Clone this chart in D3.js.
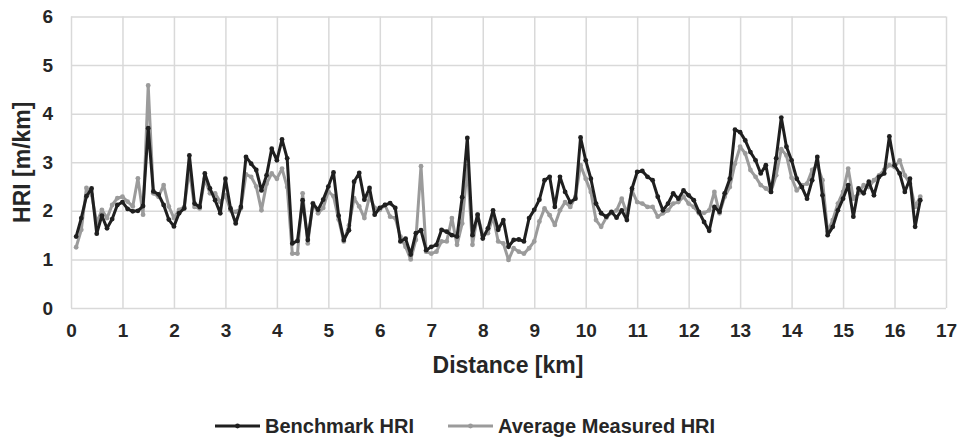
<!DOCTYPE html>
<html>
<head>
<meta charset="utf-8">
<script src="https://cdn.jsdelivr.net/npm/d3@7"></script>
<style>
  body { margin: 0; background: #fff; }
  svg text { font-family: "Liberation Sans", Arial, sans-serif; font-weight: bold; fill: #262626; }
</style>
</head>
<body>
<div id="chart"></div>
<script>
// distance along the route [km]
const distance = [
  0.1,0.2,0.3,0.4,0.5,0.6,0.7,0.8,0.9,1.0,1.1,1.2,1.3,1.4,1.5,1.6,1.7,1.8,1.9,2.0,
  2.1,2.2,2.3,2.4,2.5,2.6,2.7,2.8,2.9,3.0,3.1,3.2,3.3,3.4,3.5,3.6,3.7,3.8,3.9,4.0,
  4.1,4.2,4.3,4.4,4.5,4.6,4.7,4.8,4.9,5.0,5.1,5.2,5.3,5.4,5.5,5.6,5.7,5.8,5.9,6.0,
  6.1,6.2,6.3,6.4,6.5,6.6,6.7,6.8,6.9,7.0,7.1,7.2,7.3,7.4,7.5,7.6,7.7,7.8,7.9,8.0,
  8.1,8.2,8.3,8.4,8.5,8.6,8.7,8.8,8.9,9.0,9.1,9.2,9.3,9.4,9.5,9.6,9.7,9.8,9.9,10.0,
  10.1,10.2,10.3,10.4,10.5,10.6,10.7,10.8,10.9,11.0,11.1,11.2,11.3,11.4,11.5,11.6,11.7,11.8,11.9,12.0,
  12.1,12.2,12.3,12.4,12.5,12.6,12.7,12.8,12.9,13.0,13.1,13.2,13.3,13.4,13.5,13.6,13.7,13.8,13.9,14.0,
  14.1,14.2,14.3,14.4,14.5,14.6,14.7,14.8,14.9,15.0,15.1,15.2,15.3,15.4,15.5,15.6,15.7,15.8,15.9,16.0,
  16.1,16.2,16.3,16.4,16.5
];

const benchmarkHRI = [
  1.47,1.85,2.30,2.46,1.53,1.90,1.64,1.83,2.12,2.18,2.04,1.99,2.00,2.10,3.70,2.40,2.34,2.12,1.82,1.68,
  1.95,2.05,3.14,2.15,2.08,2.77,2.46,2.22,1.95,2.66,2.05,1.74,2.08,3.11,2.97,2.84,2.42,2.73,3.28,3.04,
  3.47,3.08,1.33,1.38,2.22,1.40,2.15,2.02,2.23,2.50,2.79,1.90,1.40,1.60,2.60,2.78,2.23,2.47,1.92,2.06,
  2.12,2.16,2.06,1.37,1.43,1.10,1.54,1.60,1.19,1.26,1.30,1.61,1.57,1.50,1.47,2.28,3.50,1.50,1.92,1.43,
  1.64,2.01,1.61,1.81,1.26,1.40,1.41,1.37,1.85,2.02,2.23,2.63,2.70,2.08,2.70,2.39,2.18,2.25,3.51,3.04,
  2.66,2.15,1.95,1.88,1.98,1.86,2.01,1.81,2.46,2.80,2.82,2.70,2.63,2.29,2.01,2.15,2.36,2.25,2.42,2.32,
  2.22,1.98,1.77,1.59,2.08,1.98,2.36,2.66,3.67,3.62,3.45,3.21,3.04,2.77,2.94,2.39,3.08,3.92,3.32,3.04,
  2.66,2.49,2.25,2.63,3.11,2.32,1.50,1.67,2.01,2.25,2.53,1.88,2.46,2.36,2.60,2.32,2.70,2.77,3.53,2.94,
  2.77,2.39,2.66,1.67,2.22
];

const averageMeasuredHRI = [
  1.25,1.61,2.47,2.33,1.75,2.02,1.85,2.12,2.26,2.29,2.19,2.09,2.67,1.92,4.58,2.36,2.29,2.53,2.09,1.85,
  2.02,2.08,2.84,2.08,2.05,2.66,2.36,2.36,2.18,2.32,2.01,1.98,2.05,2.75,2.70,2.50,2.01,2.56,2.77,2.66,
  2.87,2.49,1.12,1.12,2.36,1.33,2.16,1.95,2.06,2.40,2.30,1.82,1.37,1.70,2.26,2.09,1.85,2.30,2.06,2.02,
  2.12,1.88,1.85,1.47,1.26,1.00,1.40,2.92,1.16,1.12,1.16,1.37,1.37,1.85,1.30,1.74,2.92,1.30,1.92,1.50,
  1.54,1.88,1.37,1.33,0.99,1.23,1.16,1.12,1.23,1.37,1.78,2.05,1.91,1.71,2.01,2.18,2.08,2.29,2.94,2.66,
  2.39,1.81,1.67,1.86,1.96,2.01,2.25,1.95,2.42,2.18,2.15,2.08,2.08,1.88,1.95,2.01,2.15,2.18,2.29,2.15,
  2.08,1.95,1.96,2.01,2.39,1.95,2.29,2.49,2.97,3.32,3.18,2.84,2.70,2.53,2.46,2.39,2.73,3.27,3.14,2.68,
  2.42,2.53,2.56,2.84,2.94,2.63,1.57,1.81,2.15,2.39,2.87,2.25,2.36,2.53,2.49,2.63,2.73,2.84,2.94,2.90,
  3.04,2.73,2.56,2.08,2.29
];

const xTicks = d3.range(0, 18);
const yTicks = [0, 1, 2, 3, 4, 5, 6];

const series = [
  { name: "Benchmark HRI", values: benchmarkHRI, color: "#1f1f1f" },
  { name: "Average Measured HRI", values: averageMeasuredHRI, color: "#9b9b9b" }
];

const width = 960, height = 441;
const margin = { top: 16.5, right: 14, bottom: 133, left: 71 };
const innerW = width - margin.left - margin.right;
const innerH = height - margin.top - margin.bottom;

const svg = d3.select("#chart").append("svg")
  .attr("width", width).attr("height", height);

const g = svg.append("g").attr("transform", `translate(${margin.left},${margin.top})`);

const x = d3.scaleLinear().domain([0, 17]).range([0, innerW]);
const y = d3.scaleLinear().domain([0, 6]).range([innerH, 0]);

// gridlines
g.append("g")
  .call(d3.axisLeft(y).tickValues(yTicks).tickSize(-innerW).tickFormat(""))
  .call((s) => s.select(".domain").remove())
  .selectAll("line").attr("stroke", "#d9d9d9").attr("stroke-width", 1.5);

g.append("g")
  .attr("transform", `translate(0,${innerH})`)
  .call(d3.axisBottom(x).tickValues(xTicks).tickSize(-innerH).tickFormat(""))
  .call((s) => s.select(".domain").remove())
  .selectAll("line").attr("stroke", "#d9d9d9").attr("stroke-width", 1.5);

// tick labels
const yAxis = g.append("g")
  .call(d3.axisLeft(y).tickValues(yTicks).tickSize(0).tickPadding(18).tickFormat(d3.format("d")));
yAxis.select(".domain").remove();
yAxis.selectAll("text").attr("font-size", 19).style("font-family", null).attr("fill", null);

const xAxis = g.append("g")
  .attr("transform", `translate(0,${innerH})`)
  .call(d3.axisBottom(x).tickValues(xTicks).tickSize(0).tickPadding(16).tickFormat(d3.format("d")));
xAxis.select(".domain").remove();
xAxis.selectAll("text").attr("font-size", 19).style("font-family", null).attr("fill", null);

// series
const line = d3.line()
  .x((d, i) => x(distance[i]))
  .y((d) => y(d));

series.slice().reverse().forEach((s) => {
  const sg = g.append("g");
  sg.append("path")
    .datum(s.values)
    .attr("fill", "none")
    .attr("stroke", s.color)
    .attr("stroke-width", 3)
    .attr("stroke-linejoin", "round")
    .attr("d", line);
  sg.selectAll("circle")
    .data(s.values)
    .join("circle")
    .attr("cx", (d, i) => x(distance[i]))
    .attr("cy", (d) => y(d))
    .attr("r", 2.4)
    .attr("fill", s.color);
});

// axis titles
svg.append("text")
  .attr("transform", `translate(22,${margin.top + innerH / 2}) rotate(-90)`)
  .attr("text-anchor", "middle")
  .attr("dominant-baseline", "central")
  .attr("font-size", 23)
  .text("HRI [m/km]");

svg.append("text")
  .attr("x", 508)
  .attr("y", 373)
  .attr("text-anchor", "middle")
  .attr("font-size", 23)
  .text("Distance [km]");

// legend
const legend = svg.append("g").attr("transform", "translate(215,426)");
const legendX = [0, 233];
series.forEach((s, i) => {
  const lg = legend.append("g").attr("transform", `translate(${legendX[i]},0)`);
  lg.append("line")
    .attr("x1", 0).attr("x2", 45)
    .attr("stroke", s.color).attr("stroke-width", 3);
  lg.append("circle").attr("cx", 22.5).attr("r", 2.4).attr("fill", s.color);
  lg.append("text")
    .attr("x", 50)
    .attr("dominant-baseline", "central")
    .attr("font-size", 20)
    .text(s.name);
});
</script>
</body>
</html>
